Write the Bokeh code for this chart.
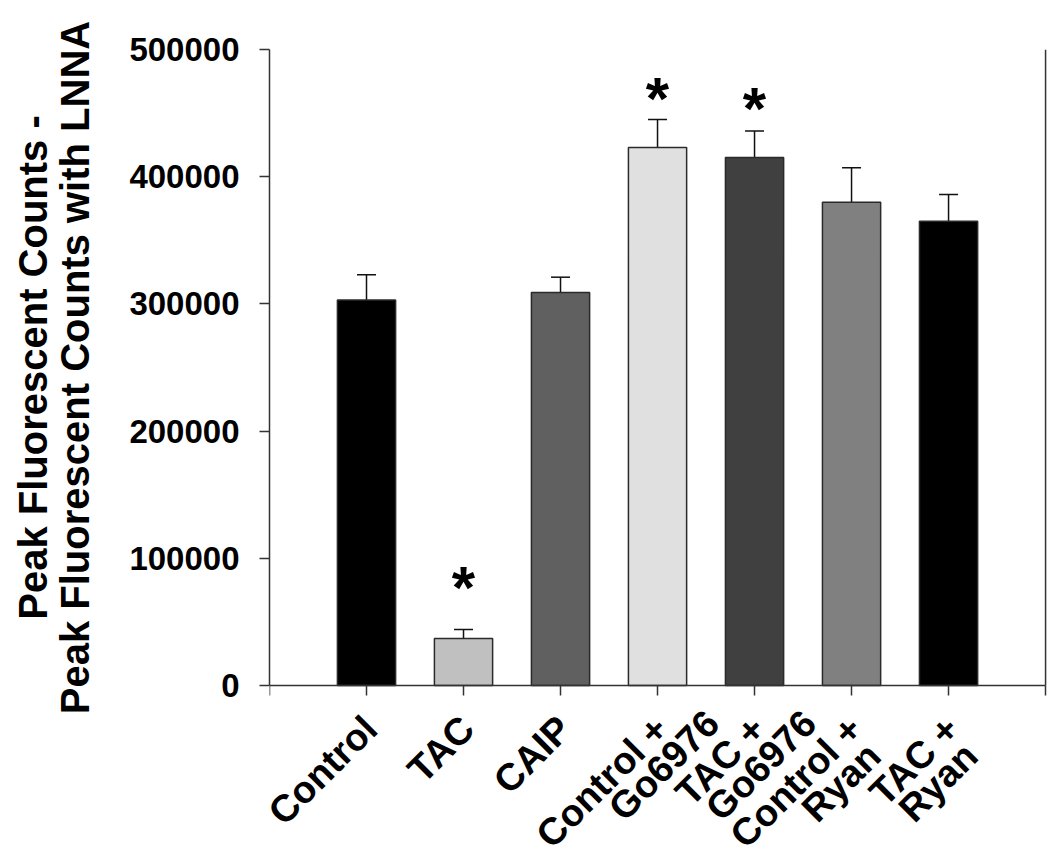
import math
from bokeh.plotting import figure
from bokeh.models import (ColumnDataSource, FixedTicker, Range1d, Whisker, TeeHead, Title)
from bokeh.core.properties import value
from bokeh.embed import file_html
from bokeh.resources import INLINE

# ---- data ----
categories = ["Control", "TAC", "CAIP", "Control +\nGo6976", "TAC +\nGo6976",
              "Control +\nRyan", "TAC +\nRyan"]
means = [303000, 37000, 309000, 423000, 415000, 380000, 365000]
sem = [20000, 7000, 12000, 22000, 21000, 27000, 21000]
colors = ["#000000", "#c0c0c0", "#606060", "#e0e0e0", "#404040", "#808080", "#000000"]
sig_index = [1, 3, 4]            # bars marked with *
sig_y = [82000, 466000, 458000]  # asterisk centre heights
y_ticks = [0, 100000, 200000, 300000, 400000, 500000]
y_max = 500000
y_title_lines = ["Peak Fluorescent Counts -", "Peak Fluorescent Counts with LNNA"]

FONT = "Liberation Sans"
W, H = 1050, 860
LEFT, TOP, RIGHT = 269, 49, 3
PLOT_H = 636                     # pixel height of 0..y_max
BELOW = H - TOP - PLOT_H         # room under the baseline for category labels
TITLE_PX = 40

# advance widths (em) of Liberation Sans Bold, used to centre the y title lines
ADV = {"P": .667, "e": .556, "a": .556, "k": .556, " ": .278, "F": .611, "l": .278,
       "u": .611, "o": .611, "r": .389, "s": .556, "c": .556, "n": .611, "t": .333,
       "C": .722, "-": .333, "w": .778, "i": .278, "h": .611, "L": .611, "N": .722,
       "A": .722}


def text_w(t, px):
    return sum(ADV.get(ch, .6) for ch in t) * px


n = len(categories)
xs = list(range(1, n + 1))
upper = [m + s for m, s in zip(means, sem)]
src = ColumnDataSource(dict(x=xs, top=means, upper=upper, color=colors))

x_end = n + 1
y_low = -y_max * BELOW / PLOT_H
p = figure(width=W, height=H, output_backend="svg", toolbar_location=None,
           x_range=Range1d(0, x_end + 0.02), y_range=Range1d(y_low, y_max),
           x_axis_location="above",
           min_border_left=LEFT, min_border_right=RIGHT, min_border_top=TOP,
           min_border_bottom=0)
p.outline_line_color = None
p.grid.grid_line_color = None
p.background_fill_color = "white"
p.border_fill_color = "white"

p.vbar(x="x", top="top", bottom=0, width=0.6, fill_color="color",
       line_color="#2a2a2a", line_width=1.5, source=src)

p.add_layout(Whisker(source=src, base="x", lower="top", upper="upper",
                     line_color="#111111", line_width=1.5,
                     upper_head=TeeHead(size=19, line_color="#111111", line_width=1.5),
                     lower_head=None))

p.text(x=[xs[i] for i in sig_index], y=sig_y, text=["*"] * len(sig_index),
       text_font=value(FONT), text_font_style="bold", text_font_size="60px",
       text_align="center", text_baseline="alphabetic", y_offset=6, text_color="black")

# right-hand frame line
p.segment(x0=[x_end], y0=[0], x1=[x_end], y1=[y_max], line_color="#333333", line_width=1.5)

# x axis: drawn at y = 0 with downward ticks, labels drawn separately
ax = p.xaxis[0]
ax.fixed_location = 0
ax.bounds = (0, x_end)
ax.ticker = FixedTicker(ticks=list(range(0, n + 2)))
ax.major_label_overrides = {i: "" for i in range(0, n + 2)}
ax.major_label_text_font_size = "1px"
ax.major_label_standoff = 0
ax.minor_tick_line_color = None
ax.major_tick_in = 10
ax.major_tick_out = 0
ax.axis_line_color = "#333333"
ax.axis_line_width = 1.5
ax.major_tick_line_color = "#333333"
ax.major_tick_line_width = 1.5

# rotated (45 deg) category labels, one entry per text line
ANG = math.pi / 4
c, s = math.cos(ANG), math.sin(ANG)
DOWN1, RIGHT1 = 37, 4      # end of first line relative to tick (px)
PERP = 32                  # line spacing (px)
lx, ly, lt, lxo, lyo = [], [], [], [], []
for xi, cat in zip(xs, categories):
    parts = cat.split("\n")
    along2 = 40 if "Go6976" in cat else -6
    for j, line in enumerate(parts):
        along = along2 if j else 0
        perp = PERP * j
        lx.append(xi); ly.append(0); lt.append(line)
        lxo.append(RIGHT1 + along * c + perp * s)
        lyo.append(DOWN1 - along * s + perp * c)
lab_src = ColumnDataSource(dict(x=lx, y=ly, text=lt, xo=lxo, yo=lyo))
p.text(x="x", y="y", text="text", x_offset="xo", y_offset="yo", source=lab_src,
       angle=ANG, text_align="right", text_baseline="middle", text_font=value(FONT),
       text_font_style="bold", text_font_size="38px", text_color="black")

# y axis
ay = p.yaxis[0]
ay.bounds = (0, y_max)
ay.ticker = FixedTicker(ticks=y_ticks)
ay.formatter.use_scientific = False
ay.minor_tick_line_color = None
ay.major_tick_in = 0
ay.major_tick_out = 10
ay.axis_line_color = "#333333"
ay.axis_line_width = 1.5
ay.major_tick_line_color = "#333333"
ay.major_tick_line_width = 1.5
ay.major_label_text_font = FONT
ay.major_label_text_font_style = "bold"
ay.major_label_text_font_size = "33px"
ay.major_label_text_color = "black"
ay.major_label_standoff = 20
# keep a gap between tick labels and the title lines
ay.axis_label = "\u00a0"
ay.axis_label_text_font_size = "1px"
ay.axis_label_standoff = 28

# y title: one Title per line, centred on the 0..y_max span
axis_mid = TOP + PLOT_H / 2
for line in reversed(y_title_lines):       # inner line first
    off = H - (axis_mid + text_w(line, TITLE_PX) / 2)
    t = Title(text=line, align="left", offset=off, standoff=-4,
              text_font=FONT, text_font_style="bold",
              text_font_size=f"{TITLE_PX}px", text_color="black")
    p.add_layout(t, "left")

open("out.html", "w").write(file_html(p, INLINE))
